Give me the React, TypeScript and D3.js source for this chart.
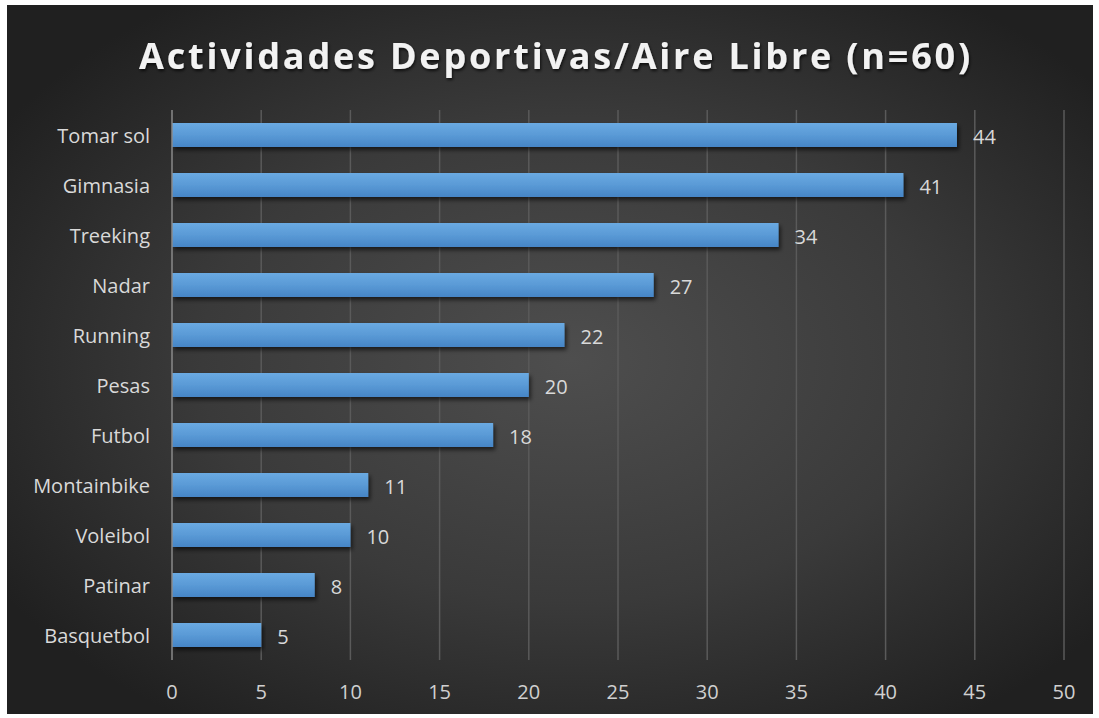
import React from "react";
import * as d3 from "d3";

const categories = ["Tomar sol", "Gimnasia", "Treeking", "Nadar", "Running", "Pesas", "Futbol", "Montainbike", "Voleibol", "Patinar", "Basquetbol"];
const values = [44, 41, 34, 27, 22, 20, 18, 11, 10, 8, 5];
const xTicks = [0, 5, 10, 15, 20, 25, 30, 35, 40, 45, 50];
const title = "Actividades Deportivas/Aire Libre (n=60)";

const W = 1099, H = 718;
const M = { left: 172, right: 1064, top: 110, bottom: 660 };

export default function App() {
  const x = d3.scaleLinear().domain([0, 50]).range([M.left, M.right]);
  const y = d3.scaleBand<string>().domain(categories).range([M.top, M.bottom]).paddingInner(0.52).paddingOuter(0.26);
  const bh = y.bandwidth();
  const font = "'Open Sans', 'Noto Sans', sans-serif";
  return (
    <svg width={W} height={H} style={{ position: "absolute", left: 0, top: 0, background: "#fff" }}>
      <defs>
        <radialGradient id="bg" cx="52%" cy="50%" r="62%">
          <stop offset="0%" stopColor="#4e4e4e" />
          <stop offset="55%" stopColor="#3a3a3a" />
          <stop offset="100%" stopColor="#202020" />
        </radialGradient>
        <linearGradient id="bar" x1="0" y1="0" x2="0" y2="1">
          <stop offset="0%" stopColor="#6aaae2" />
          <stop offset="50%" stopColor="#5a9ad6" />
          <stop offset="100%" stopColor="#4585c6" />
        </linearGradient>
        <filter id="shadow" x="-5%" y="-30%" width="110%" height="180%">
          <feDropShadow dx="2" dy="3" stdDeviation="2" floodColor="#000" floodOpacity="0.6" />
        </filter>
        <filter id="tshadow" x="-5%" y="-30%" width="110%" height="160%">
          <feDropShadow dx="1" dy="2" stdDeviation="1.5" floodColor="#000" floodOpacity="0.7" />
        </filter>
      </defs>
      <rect x={7} y={5} width={1086} height={709} fill="url(#bg)" />
      <text x={556} y={69} textAnchor="middle" fill="#f2f2f2" fontFamily={font} fontWeight={700} fontSize={36} letterSpacing={2.8} filter="url(#tshadow)">
        {title}
      </text>
      {xTicks.map((t) => (
        <g key={t}>
          {t > 0 && <line x1={x(t)} x2={x(t)} y1={M.top} y2={M.bottom} stroke="#5a5a5a" strokeWidth={1.5} />}
          <text x={x(t)} y={699} textAnchor="middle" fill="#d0d0d0" fontFamily={font} fontSize={20}>{t}</text>
        </g>
      ))}
      {categories.map((c, i) => {
        const yy = y(c)!;
        return (
          <g key={c}>
            <rect x={x(0)} y={yy} width={x(values[i]) - x(0)} height={bh} fill="url(#bar)" filter="url(#shadow)" />
            <text x={x(values[i]) + 16} y={yy + bh / 2 + 1} dominantBaseline="central" fill="#d9d9d9" fontFamily={font} fontSize={20}>{values[i]}</text>
            <text x={150} y={yy + bh / 2} dominantBaseline="central" textAnchor="end" fill="#d9d9d9" fontFamily={font} fontSize={20}>{c}</text>
          </g>
        );
      })}
      <line x1={x(0)} x2={x(0)} y1={M.top} y2={M.bottom} stroke="#8a8a8a" strokeWidth={1.5} />
    </svg>
  );
}
